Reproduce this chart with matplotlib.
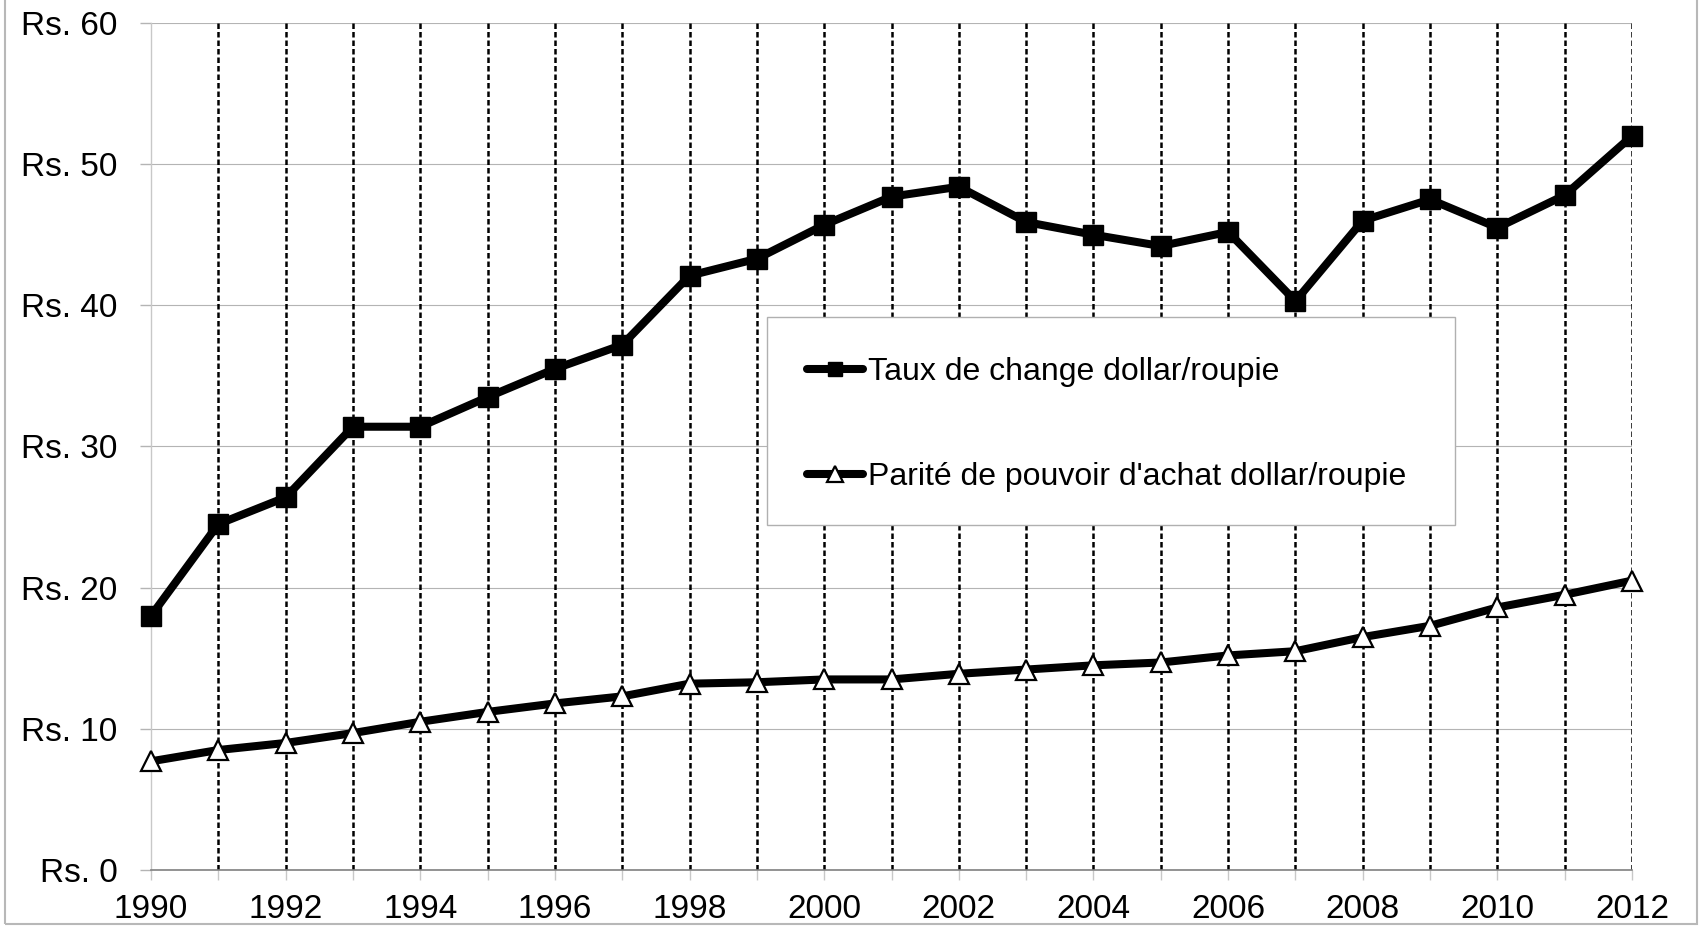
import matplotlib
matplotlib.use("Agg")
import matplotlib.pyplot as plt
from matplotlib.patches import Rectangle

plt.rcParams['font.family'] = ['Liberation Sans', 'DejaVu Sans']

# data
years = list(range(1990, 2013))
taux_change = [18.0, 24.5, 26.4, 31.4, 31.4, 33.5, 35.5, 37.2, 42.1, 43.3, 45.7, 47.7,
               48.4, 45.9, 45.0, 44.2, 45.2, 40.3, 46.0, 47.5, 45.5, 47.8, 52.0]
parite_pa = [7.7, 8.5, 9.0, 9.7, 10.5, 11.2, 11.8, 12.3, 13.2, 13.3, 13.5, 13.5,
             13.9, 14.2, 14.5, 14.7, 15.2, 15.5, 16.5, 17.3, 18.6, 19.5, 20.5]
y_ticks = [0, 10, 20, 30, 40, 50, 60]
y_labels = ["Rs. %d" % v for v in y_ticks]
label_taux = "Taux de change dollar/roupie"
label_ppa = "Parité de pouvoir d'achat dollar/roupie"

fig = plt.figure(figsize=(17.02, 9.34), dpi=100)
ax = fig.add_axes([0.0887, 0.0685, 0.8702, 0.9069])

# light frame around the whole chart area (Excel style)
fig.patches.append(Rectangle((5 / 1702, 10 / 934), 1692 / 1702, 1.0, transform=fig.transFigure,
                             fill=False, edgecolor='#b8b8b8', lw=1.5))

ax.set_xlim(1990, 2012)
ax.set_ylim(0, 60)

# horizontal grid and vertical dashed year lines
ax.set_axisbelow(True)
ax.yaxis.grid(True, color='#b4b4b4', lw=0.8)
ax.vlines(years[1:], 0, 60, colors='black', lw=1.8, linestyles=(0, (2.2, 1.2)), zorder=1)

ax.plot(years, taux_change, color='black', lw=5.8, marker='s', markersize=14,
        solid_joinstyle='round', solid_capstyle='round', clip_on=False, zorder=3,
        label=label_taux)
ax.plot(years, parite_pa, color='black', lw=5.8, marker='^', markersize=15,
        markerfacecolor='white', markeredgecolor='black', markeredgewidth=1.6,
        solid_joinstyle='round', solid_capstyle='round', clip_on=False, zorder=3,
        label=label_ppa)

# axes styling
for side in ['top', 'right']:
    ax.spines[side].set_visible(False)
ax.spines['left'].set_color('#c8c8c8')
ax.spines['left'].set_linewidth(1.0)
ax.spines['bottom'].set_color('#808080')
ax.spines['bottom'].set_linewidth(1.2)

ax.set_xticks(years)
ax.set_xticklabels([str(y) if y % 2 == 0 else '' for y in years])
ax.set_yticks(y_ticks)
ax.set_yticklabels(y_labels)
ax.tick_params(axis='x', length=7, width=1.0, color='#c8c8c8', labelsize=24, pad=10)
ax.tick_params(axis='y', length=8, width=1.0, color='#b4b4b4', labelsize=24, pad=16)

# legend: box drawn separately, entries placed inside it
ax.add_patch(Rectangle((0.416, 0.407), 0.4645, 0.246, transform=ax.transAxes,
                       facecolor='white', edgecolor='#b0b0b0', lw=1.0, zorder=4))
leg = ax.legend(loc='center left', bbox_to_anchor=(0.443, 0.5255), frameon=False,
                fontsize=23, handlelength=1.75, handletextpad=0.15, labelspacing=2.35,
                borderpad=0, borderaxespad=0, markerscale=0.75)
leg.set_zorder(5)

fig.savefig('out.png', dpi=100)
